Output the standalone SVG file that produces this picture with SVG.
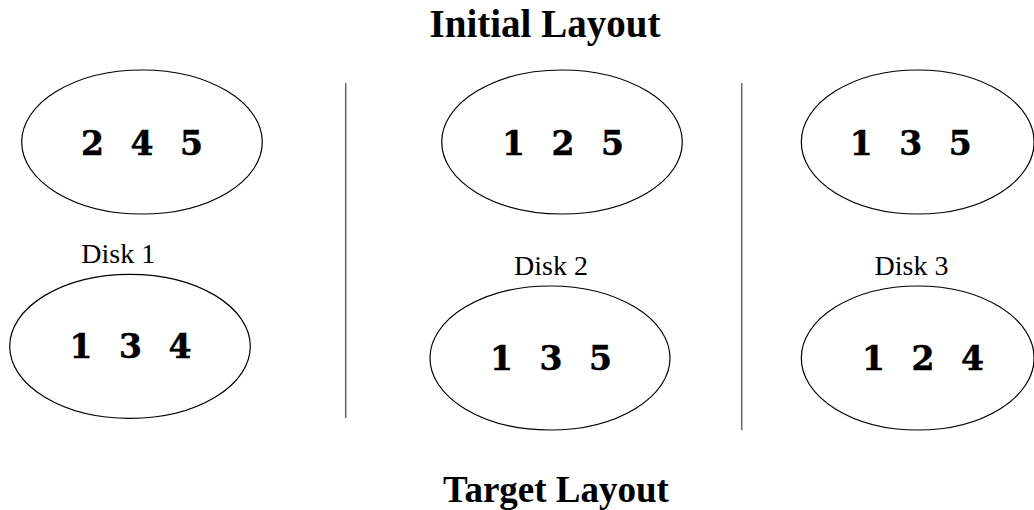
<svg xmlns="http://www.w3.org/2000/svg" width="1034" height="510" viewBox="0 0 1034 510">
<style>
.disk{fill:#fff;stroke:#000;stroke-width:1.2}
.num{font-family:"DejaVu Serif",serif;font-weight:bold;font-size:33px;text-anchor:middle;word-spacing:15px;fill:#000;stroke:#000;stroke-width:0.5}
.lbl{font-family:"Liberation Serif",serif;font-size:28px;text-anchor:middle;fill:#000}
.title{font-family:"Liberation Serif",serif;font-weight:bold;font-size:37px;text-anchor:middle;fill:#000}
.sep{stroke:#666;stroke-width:1.5}
</style>
<rect width="1034" height="510" fill="#fff"/>
<text class="title" x="545" y="37" style="font-size:39px">Initial Layout</text>
<text class="title" x="556" y="502">Target Layout</text>
<g id="separators">
<line class="sep" x1="345.7" y1="83" x2="345.7" y2="418"/>
<line class="sep" x1="741.7" y1="83" x2="741.7" y2="430"/>
</g>
<g id="disk1-initial">
<ellipse class="disk" cx="142" cy="142" rx="120.3" ry="72"/>
<text class="num" x="142" y="155">2 4 5</text>
</g>
<g id="disk2-initial">
<ellipse class="disk" cx="562" cy="142" rx="120.3" ry="72"/>
<text class="num" x="563" y="155">1 2 5</text>
</g>
<g id="disk3-initial">
<ellipse class="disk" cx="917.7" cy="142" rx="116.4" ry="72"/>
<text class="num" x="910.7" y="155">1 3 5</text>
</g>
<g id="label-disk1"><text class="lbl" x="118.3" y="263.3">Disk 1</text></g>
<g id="label-disk2"><text class="lbl" x="551" y="275">Disk 2</text></g>
<g id="label-disk3"><text class="lbl" x="911.5" y="275">Disk 3</text></g>
<g id="disk1-target">
<ellipse class="disk" cx="130" cy="346.3" rx="120.3" ry="72"/>
<text class="num" x="130.5" y="358.3">1 3 4</text>
</g>
<g id="disk2-target">
<ellipse class="disk" cx="550" cy="358" rx="120" ry="72"/>
<text class="num" x="551" y="370">1 3 5</text>
</g>
<g id="disk3-target">
<ellipse class="disk" cx="917.7" cy="358" rx="116.4" ry="72"/>
<text class="num" x="923" y="370">1 2 4</text>
</g>
</svg>
